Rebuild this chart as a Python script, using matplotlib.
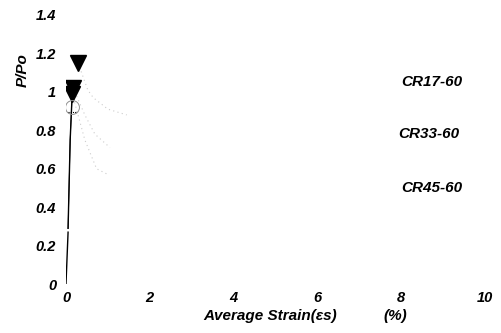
import numpy as np
import matplotlib
matplotlib.use("Agg")
import matplotlib.pyplot as plt

plt.rcParams['font.family'] = ['Liberation Sans', 'DejaVu Sans']

# specimen names
series = ['CR17-60', 'CR33-60', 'CR45-60']

# rising branch (strain %, P/Po)
rise_x = [0.0, 0.05, 0.10, 0.15]
rise_y = [0.0, 0.40, 0.75, 1.00]

# peak points
peak_x = [0.29, 0.17, 0.15]
peak_y = [1.15, 1.02, 0.99]

# descending branches (faint in the scan)
desc_x = [
    [0.29, 0.52, 0.65, 1.00, 1.45],
    [0.17, 0.45, 0.69, 1.05],
    [0.15, 0.45, 0.73, 1.00],
]
desc_y = [
    [1.15, 1.01, 0.97, 0.91, 0.88],
    [1.02, 0.88, 0.78, 0.71],
    [0.99, 0.75, 0.60, 0.57],
]

# label anchor points (right end, P/Po level)
label_x = [9.45, 9.38, 9.45]
label_y = [1.05, 0.78, 0.50]

# yield mark
circ_x = [0.14]
circ_y = [0.92]

xticks = [0, 2, 4, 6, 8, 10]
yticks = [0, 0.2, 0.4, 0.6, 0.8, 1, 1.2, 1.4]

fig = plt.figure(figsize=(5.01, 3.33), dpi=100)
ax = fig.add_axes([0.1317, 0.147, 0.8363, 0.808])

# rising branch, black with a small gap like the scan
ax.plot(rise_x[:2], [0.0, 0.27], color='black', lw=1.0)
ax.plot(rise_x[1:], [0.29] + rise_y[2:], color='black', lw=1.0)
ax.plot([0.05, 0.10, 0.15], [0.29, 0.75, 1.00], color='black', lw=0.6)

for dx, dy in zip(desc_x, desc_y):
    ax.plot(dx, dy, color='#cccccc', lw=0.8, ls=(0, (1, 3)))

ax.plot(peak_x, peak_y, linestyle='none', marker='v', markersize=11,
        color='black')
ax.plot(circ_x, circ_y, linestyle='none', marker='o', markersize=10,
        markerfacecolor='none', markeredgecolor='#909090',
        markeredgewidth=0.7)
ax.plot([0.05, 0.25], [0.895, 0.895], color='black', lw=0.8, ls=(0, (1, 1)))

for name, lx, ly in zip(series, label_x, label_y):
    ax.text(lx, ly, name, ha='right', va='center', fontsize=11,
            fontweight='bold', fontstyle='italic')

ax.set_xlim(0, 10)
ax.set_ylim(0, 1.4)
ax.set_xticks(xticks)
ax.set_yticks(yticks)
ax.set_xticklabels([str(t) for t in xticks])
ax.set_yticklabels(['0', '0.2', '0.4', '0.6', '0.8', '1', '1.2', '1.4'])
for lab in ax.get_xticklabels() + ax.get_yticklabels():
    lab.set_fontweight('bold')
    lab.set_fontstyle('italic')
    lab.set_fontsize(10.5)
ax.tick_params(axis='y', length=0, pad=7)
ax.tick_params(axis='x', length=0, pad=5)
for s in ax.spines.values():
    s.set_visible(False)

fig.text(0.045, 0.79, 'P/Po', rotation=90, ha='center', va='center',
         fontsize=11, fontweight='bold', fontstyle='italic')
fig.text(0.54, 0.05, 'Average Strain(\u03b5s)', ha='center', va='center',
         fontsize=11, fontweight='bold', fontstyle='italic')
fig.text(0.79, 0.05, '(%)', ha='center', va='center',
         fontsize=11, fontweight='bold', fontstyle='italic')

fig.savefig('out.png', dpi=100, facecolor='white')
